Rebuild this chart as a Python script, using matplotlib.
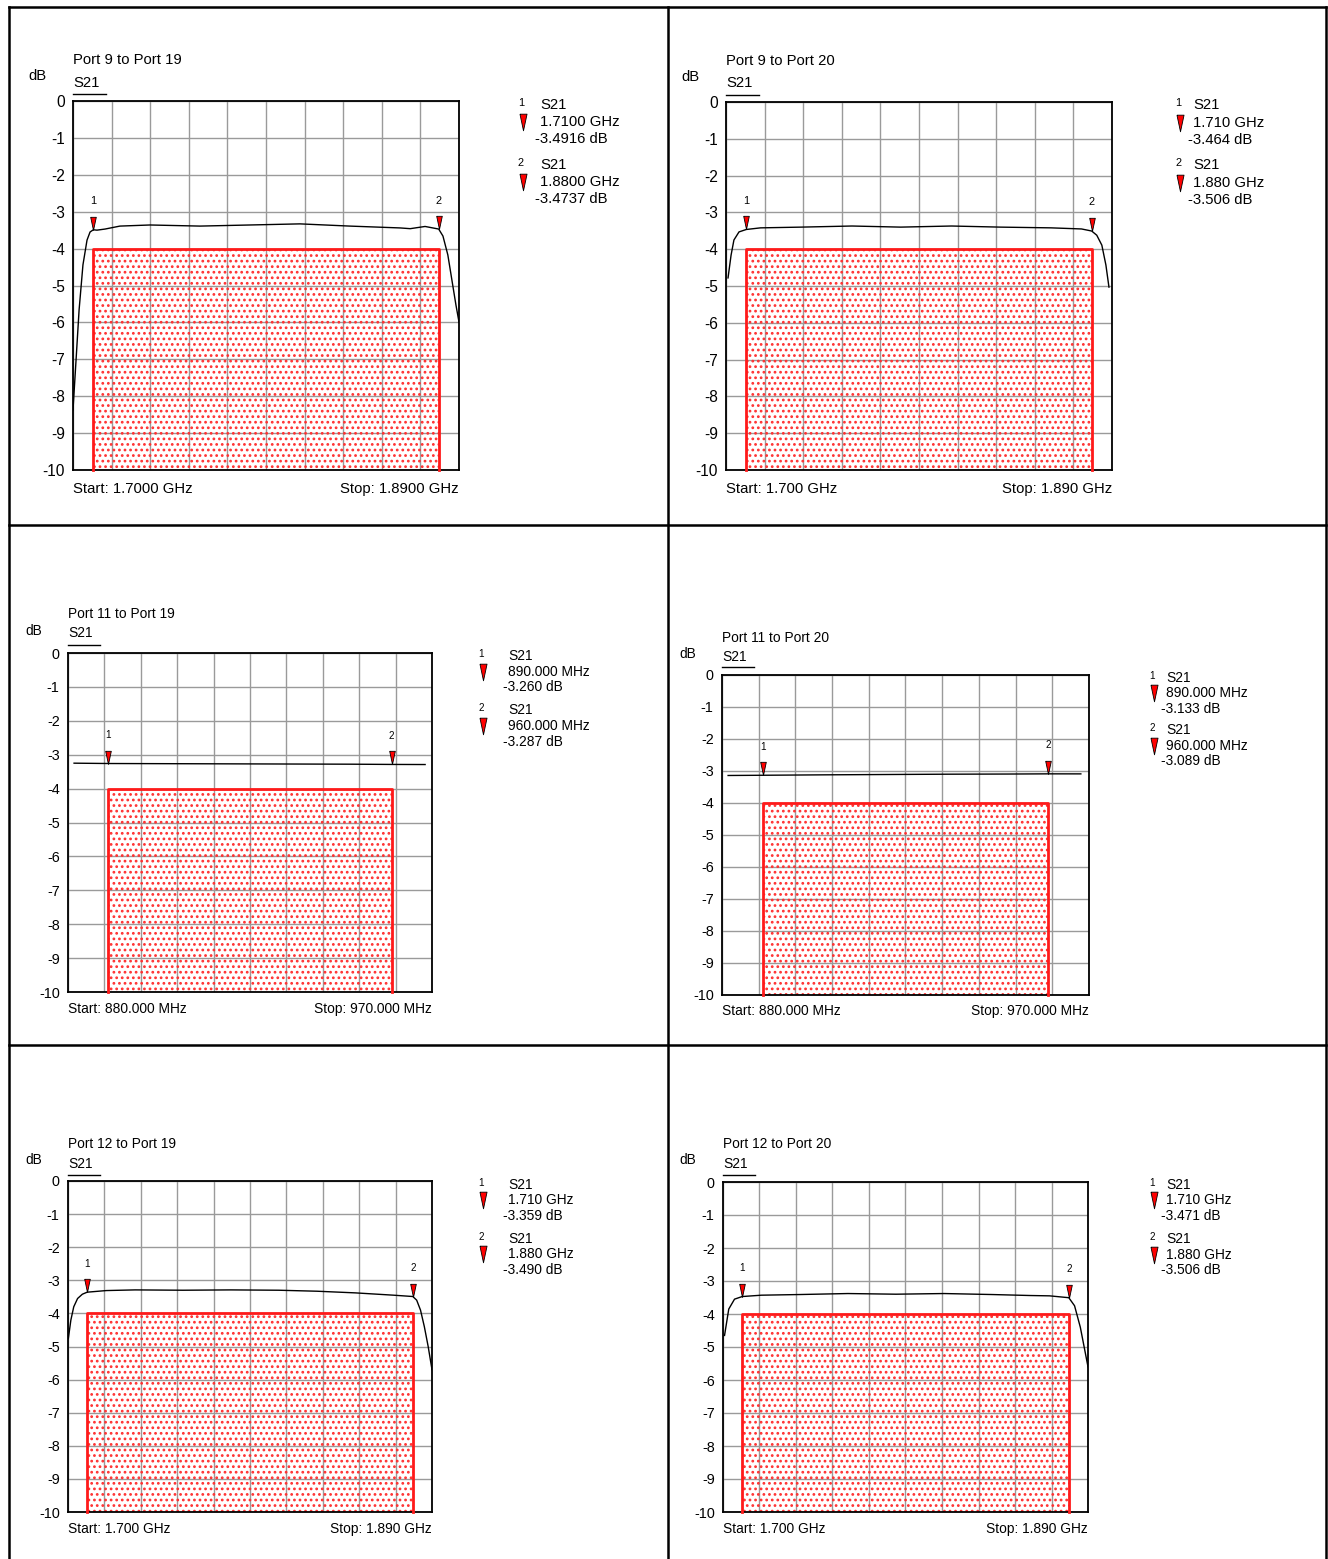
import numpy as np
import matplotlib.pyplot as plt
from matplotlib.lines import Line2D
from matplotlib.patches import Rectangle

plt.rcParams['font.family'] = ['Liberation Sans', 'DejaVu Sans']
plt.rcParams['hatch.linewidth'] = 1.2

W, H = 1328, 1559

# ---- data ----
titles = ["Port 9 to Port 19", "Port 9 to Port 20", "Port 11 to Port 19",
          "Port 11 to Port 20", "Port 12 to Port 19", "Port 12 to Port 20"]
y_ticks = [0, -1, -2, -3, -4, -5, -6, -7, -8, -9, -10]

# sweep ranges (start, stop) in GHz or MHz
sweeps = [(1.70, 1.89), (1.70, 1.89), (880.0, 970.0),
          (880.0, 970.0), (1.70, 1.89), (1.70, 1.89)]
start_labels = ["Start: 1.7000 GHz", "Start: 1.700 GHz", "Start: 880.000 MHz",
                "Start: 880.000 MHz", "Start: 1.700 GHz", "Start: 1.700 GHz"]
stop_labels = ["Stop: 1.8900 GHz", "Stop: 1.890 GHz", "Stop: 970.000 MHz",
               "Stop: 970.000 MHz", "Stop: 1.890 GHz", "Stop: 1.890 GHz"]

# mask limits: (f_low, f_high, top dB)
masks = [(1.71, 1.88, -4), (1.71, 1.88, -4), (890.0, 960.0, -4),
         (890.0, 960.0, -4), (1.71, 1.88, -4), (1.71, 1.88, -4)]

# marker frequencies and values
marker_freqs = [(1.71, 1.88), (1.71, 1.88), (890.0, 960.0),
                (890.0, 960.0), (1.71, 1.88), (1.71, 1.88)]
marker_vals = [(-3.4916, -3.4737), (-3.464, -3.506), (-3.260, -3.287),
               (-3.133, -3.089), (-3.359, -3.490), (-3.471, -3.506)]
marker_freq_txt = [("1.7100 GHz", "1.8800 GHz"), ("1.710 GHz", "1.880 GHz"),
                   ("890.000 MHz", "960.000 MHz"), ("890.000 MHz", "960.000 MHz"),
                   ("1.710 GHz", "1.880 GHz"), ("1.710 GHz", "1.880 GHz")]
marker_val_txt = [("-3.4916 dB", "-3.4737 dB"), ("-3.464 dB", "-3.506 dB"),
                  ("-3.260 dB", "-3.287 dB"), ("-3.133 dB", "-3.089 dB"),
                  ("-3.359 dB", "-3.490 dB"), ("-3.471 dB", "-3.506 dB")]

# S21 traces
f1 = [1.7000, 1.7015, 1.7030, 1.7049, 1.7069, 1.7084, 1.7100, 1.7118, 1.7158, 1.7231,
      1.7379, 1.7625, 1.7871, 1.8117, 1.8363, 1.8610, 1.8660, 1.8733, 1.8800, 1.8821,
      1.8845, 1.8865, 1.8885, 1.8900]
s1 = [-8.37, -7.02, -5.66, -4.44, -3.77, -3.55, -3.49, -3.50, -3.47, -3.39,
      -3.36, -3.39, -3.36, -3.33, -3.39, -3.44, -3.46, -3.40, -3.47, -3.66,
      -4.17, -4.85, -5.53, -5.99]
f2 = [1.7010, 1.7025, 1.7039, 1.7064, 1.7100, 1.7170, 1.7370, 1.7620, 1.7860, 1.8110,
      1.8350, 1.8600, 1.8750, 1.8800, 1.8825, 1.8850, 1.8870, 1.8885]
s2 = [-4.78, -4.16, -3.75, -3.53, -3.464, -3.42, -3.40, -3.37, -3.40, -3.37,
      -3.40, -3.42, -3.45, -3.506, -3.62, -3.89, -4.43, -5.03]
f3 = [881.5, 890.0, 905.0, 920.0, 935.0, 950.0, 960.0, 968.3]
s3 = [-3.25, -3.26, -3.265, -3.27, -3.275, -3.28, -3.287, -3.29]
f4 = [881.5, 890.0, 905.0, 920.0, 935.0, 950.0, 960.0, 968.0]
s4 = [-3.14, -3.133, -3.12, -3.11, -3.10, -3.095, -3.089, -3.09]
f5 = [1.7002, 1.7015, 1.7030, 1.7050, 1.7075, 1.7100, 1.7200, 1.7350, 1.7600, 1.7850,
      1.8100, 1.8300, 1.8500, 1.8700, 1.8800, 1.8820, 1.8840, 1.8860, 1.8880, 1.8900]
s5 = [-4.75, -4.20, -3.80, -3.55, -3.42, -3.359, -3.31, -3.29, -3.30, -3.29,
      -3.30, -3.33, -3.38, -3.45, -3.490, -3.60, -3.90, -4.40, -5.00, -5.70]
f6 = [1.7008, 1.7030, 1.7060, 1.7100, 1.7200, 1.7400, 1.7650, 1.7900, 1.8150, 1.8400,
      1.8600, 1.8700, 1.8800, 1.8830, 1.8860, 1.8900]
s6 = [-4.65, -3.85, -3.55, -3.471, -3.43, -3.41, -3.38, -3.40, -3.38, -3.41,
      -3.44, -3.45, -3.506, -3.75, -4.40, -5.60]
traces = [(f1, s1), (f2, s2), (f3, s3), (f4, s4), (f5, s5), (f6, s6)]

# ---- layout (pixels in the reference) ----
layouts = [
    dict(ax=(73, 459, 101, 470), title=(73, 60), db=(28, 76), s21=(73, 83), ul=(73, 106, 94),
         sl=(73, 489), leg=(521, 540, 535), rows=(105, 122, 139, 165, 182, 199), fs=10.7),
    dict(ax=(726, 1112, 102, 470), title=(726, 61), db=(681, 77), s21=(726, 83), ul=(726, 759, 95),
         sl=(726, 489), leg=(1178, 1193, 1188), rows=(105, 123, 140, 165, 183, 200), fs=10.7),
    dict(ax=(68, 432, 653, 992), title=(68, 614), db=(25, 631), s21=(68, 633), ul=(68, 100, 645),
         sl=(68, 1009), leg=(481, 508, 503), rows=(656, 672, 687, 710, 726, 742), fs=9.9),
    dict(ax=(722, 1089, 675, 995), title=(722, 638), db=(679, 654), s21=(722, 657), ul=(722, 754, 667),
         sl=(722, 1011), leg=(1152, 1166, 1161), rows=(678, 693, 709, 730, 746, 761), fs=9.9),
    dict(ax=(68, 432, 1181, 1512), title=(68, 1144), db=(25, 1160), s21=(68, 1164), ul=(68, 100, 1175),
         sl=(68, 1529), leg=(481, 508, 503), rows=(1185, 1200, 1216, 1239, 1254, 1270), fs=9.9),
    dict(ax=(723, 1088, 1182, 1512), title=(723, 1144), db=(679, 1160), s21=(723, 1164), ul=(723, 755, 1175),
         sl=(723, 1529), leg=(1152, 1166, 1161), rows=(1185, 1200, 1216, 1239, 1255, 1270), fs=9.9),
]


def fx(x):
    return x / W


def fy(y):
    return 1 - y / H


# narrow downward triangle, tip at origin
tri_tip = [(-0.34, 1.6), (0.34, 1.6), (0.0, 0.0), (-0.34, 1.6)]
tri_mid = [(-0.34, 0.8), (0.34, 0.8), (0.0, -0.8), (-0.34, 0.8)]

fig = plt.figure(figsize=(W / 100, H / 100), dpi=100)

for i in range(6):
    L = layouts[i]
    l, r, t, b = L['ax']
    fs = L['fs']
    ax = fig.add_axes([fx(l), fy(b), (r - l) / W, (b - t) / H])
    x0, x1 = sweeps[i]
    ax.set_xlim(x0, x1)
    ax.set_ylim(-10, 0)
    ax.set_xticks(np.linspace(x0, x1, 11))
    ax.set_yticks(y_ticks)
    ax.set_yticklabels([str(v) for v in y_ticks], fontsize=fs + 0.5)
    ax.tick_params(axis='x', length=0, labelbottom=False)
    ax.tick_params(axis='y', length=0, pad=6)
    ax.grid(True, color='#9a9a9a', linewidth=1.0)
    ax.set_axisbelow(True)
    for sp in ax.spines.values():
        sp.set_linewidth(1.3)
        sp.set_color('black')

    # limit mask
    mlo, mhi, mtop = masks[i]
    ax.add_patch(Rectangle((mlo, -10), mhi - mlo, mtop + 10, facecolor='none',
                           edgecolor='#ff3030', linewidth=0, hatch='...', zorder=2))
    ax.plot([mlo, mlo, mhi, mhi], [-10, mtop, mtop, -10], color='#ff1a1a',
            linewidth=2.0, zorder=3, clip_on=False)

    # trace
    f, s = traces[i]
    ax.plot(f, s, color='black', linewidth=1.0, zorder=4)

    # markers
    for k in range(2):
        ax.plot(marker_freqs[i][k], marker_vals[i][k], marker=tri_tip, markersize=19,
                markerfacecolor='#ff0000', markeredgecolor='black', markeredgewidth=0.6,
                linestyle='none', zorder=5, clip_on=False)
        ax.annotate(str(k + 1), (marker_freqs[i][k], marker_vals[i][k]),
                    xytext=(0, 17), textcoords='offset points', ha='center',
                    va='bottom', fontsize=fs - 2.8, zorder=5)

    # header texts
    fig.text(fx(L['title'][0]), fy(L['title'][1]), titles[i], fontsize=fs, va='center')
    fig.text(fx(L['db'][0]), fy(L['db'][1]), "dB", fontsize=fs, va='center')
    fig.text(fx(L['s21'][0]), fy(L['s21'][1]), "S21", fontsize=fs, va='center')
    u0, u1, uy = L['ul']
    fig.add_artist(Line2D([fx(u0), fx(u1)], [fy(uy), fy(uy)], color='black', linewidth=1.0))

    # start / stop
    fig.text(fx(L['sl'][0]), fy(L['sl'][1]), start_labels[i], fontsize=fs, va='center')
    fig.text(fx(r), fy(L['sl'][1]), stop_labels[i], fontsize=fs, va='center', ha='right')

    # marker readout
    nx, tx, vx = L['leg']
    rows = L['rows']
    for k in range(2):
        y_s, y_f, y_v = rows[3 * k], rows[3 * k + 1], rows[3 * k + 2]
        fig.text(fx(nx), fy(y_s - 2), str(k + 1), fontsize=fs - 2.8, va='center', ha='center')
        fig.text(fx(tx), fy(y_s), "S21", fontsize=fs, va='center')
        fig.add_artist(Line2D([fx(nx + 2)], [fy(y_f)], marker=tri_mid, markersize=12,
                              markerfacecolor='#ff0000', markeredgecolor='black',
                              markeredgewidth=0.6, linestyle='none'))
        fig.text(fx(tx), fy(y_f), marker_freq_txt[i][k], fontsize=fs, va='center')
        fig.text(fx(vx), fy(y_v), marker_val_txt[i][k], fontsize=fs, va='center')

# page frame
frame = [((9, 7), (1326, 7)), ((9, 7), (9, 1559)), ((1326, 7), (1326, 1559)),
         ((668, 7), (668, 1559)), ((9, 525), (1326, 525)), ((9, 1045), (1326, 1045))]
for (xa, ya), (xb, yb) in frame:
    fig.add_artist(Line2D([fx(xa), fx(xb)], [fy(ya), fy(yb)], color='black', linewidth=1.8))

fig.savefig('out.png', dpi=100)
